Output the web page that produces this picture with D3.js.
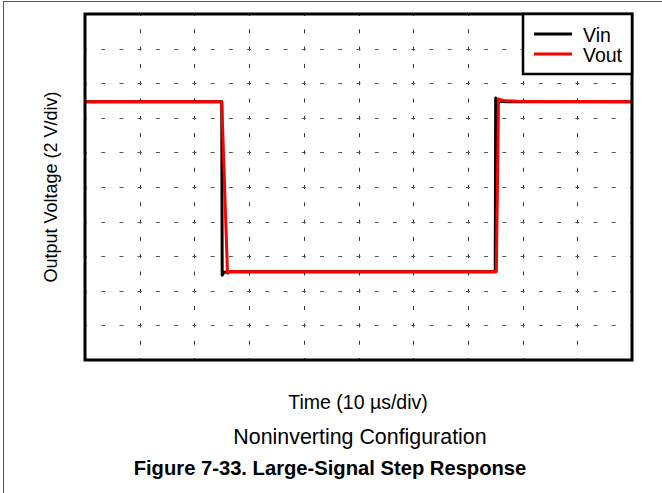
<!DOCTYPE html>
<html>
<head>
<meta charset="utf-8">
<script src="https://cdn.jsdelivr.net/npm/d3@7"></script>
<style>
  html, body { margin: 0; padding: 0; background: #fff; }
  svg { display: block; font-family: "Liberation Sans", Arial, sans-serif; }
</style>
</head>
<body>
<svg id="chart" width="662" height="493"></svg>
<script>
// ---- data (time in µs, voltage in V) ----
const xTicks = [0, 10, 20, 30, 40, 50, 60, 70, 80, 90, 100];
const yTicks = [-10, -8, -6, -4, -2, 0, 2, 4, 6, 8, 10];
const timeVin = [0, 25.0, 25.08, 25.4, 26.5, 75.0, 75.08, 75.5, 77, 100];
const vin     = [4.93, 4.93, -5.1, -4.93, -4.9, -4.9, 5.15, 4.97, 4.93, 4.93];
const timeVout = [0, 25.0, 26.05, 26.5, 28, 75.2, 75.6, 76.5, 79, 100];
const vout     = [4.93, 4.93, -4.98, -4.88, -4.9, -4.9, 5.08, 5.0, 4.95, 4.93];
const seriesNames = ["Vin", "Vout"];
const seriesColors = ["#000000", "#ff0000"];
const xLabel = "Time (10 µs/div)";
const yLabel = "Output Voltage (2 V/div)";
const subTitle = "Noninverting Configuration";
const figTitle = "Figure 7-33. Large-Signal Step Response";

const svg = d3.select("#chart");
const L = 85, R = 632, T = 14, B = 360;
const x = d3.scaleLinear().domain([0, 100]).range([L, R]);
const y = d3.scaleLinear().domain([-10, 10]).range([B, T]);

// outer page frame (left + top)
svg.append("line").attr("x1", 3.5).attr("x2", 3.5).attr("y1", 1).attr("y2", 493)
  .attr("stroke", "#555").attr("stroke-width", 1);
svg.append("line").attr("x1", 3).attr("x2", 662).attr("y1", 1.5).attr("y2", 1.5)
  .attr("stroke", "#555").attr("stroke-width", 1);

// grid
const g = svg.append("g");
const xStep = (R - L) / 30;
const yStep = (B - T) / 20;
g.selectAll("line.vg").data(xTicks.slice(1, -1)).join("line")
  .attr("class", "vg")
  .attr("x1", d => Math.round(x(d)) + 0.5).attr("x2", d => Math.round(x(d)) + 0.5)
  .attr("y1", T).attr("y2", B)
  .attr("stroke", "#333").attr("stroke-width", 1)
  .attr("stroke-dasharray", `4,${yStep - 4}`).attr("stroke-dashoffset", 2);
g.selectAll("line.hg").data(yTicks.slice(1, -1)).join("line")
  .attr("class", "hg")
  .attr("y1", d => Math.round(y(d)) + 0.5).attr("y2", d => Math.round(y(d)) + 0.5)
  .attr("x1", L).attr("x2", R)
  .attr("stroke", "#555").attr("stroke-width", 1)
  .attr("stroke-dasharray", `4,${xStep - 4}`).attr("stroke-dashoffset", 2);

// series
const line = d3.line().x(d => x(d[0])).y(d => y(d[1]));
const vinData = timeVin.map((t, i) => [t, vin[i]]);
const voutData = timeVout.map((t, i) => [t, vout[i]]);
svg.append("path").datum(vinData).attr("d", line)
  .attr("fill", "none").attr("stroke", seriesColors[0]).attr("stroke-width", 3)
  .attr("stroke-linejoin", "round");
svg.append("path").datum(voutData).attr("d", line)
  .attr("fill", "none").attr("stroke", seriesColors[1]).attr("stroke-width", 3)
  .attr("stroke-linejoin", "round");

// plot frame
svg.append("rect").attr("x", L).attr("y", T).attr("width", R - L).attr("height", B - T)
  .attr("fill", "none").attr("stroke", "#000").attr("stroke-width", 3);

// legend
const lg = svg.append("g");
lg.append("rect").attr("x", 523).attr("y", T).attr("width", R - 523).attr("height", 60)
  .attr("fill", "#fff").attr("stroke", "#000").attr("stroke-width", 2.5);
seriesNames.forEach((name, i) => {
  const yy = 34 + i * 20;
  lg.append("line").attr("x1", 534).attr("x2", 572).attr("y1", yy).attr("y2", yy)
    .attr("stroke", seriesColors[i]).attr("stroke-width", 3);
  lg.append("text").attr("x", 583).attr("y", yy + 7.5).attr("font-size", 19.5)
    .attr("fill", "#000").text(name);
});

// texts
svg.append("text").attr("x", 358).attr("y", 409).attr("text-anchor", "middle")
  .attr("font-size", 19.5).text(xLabel);
svg.append("text").attr("x", 360).attr("y", 444).attr("text-anchor", "middle")
  .attr("font-size", 21.4).text(subTitle);
svg.append("text").attr("x", 330).attr("y", 475).attr("text-anchor", "middle")
  .attr("font-size", 20.2).attr("font-weight", "bold").text(figTitle);
svg.append("text").attr("transform", `translate(57,${(T + B) / 2}) rotate(-90)`)
  .attr("text-anchor", "middle").attr("font-size", 18).text(yLabel);
</script>
</body>
</html>
